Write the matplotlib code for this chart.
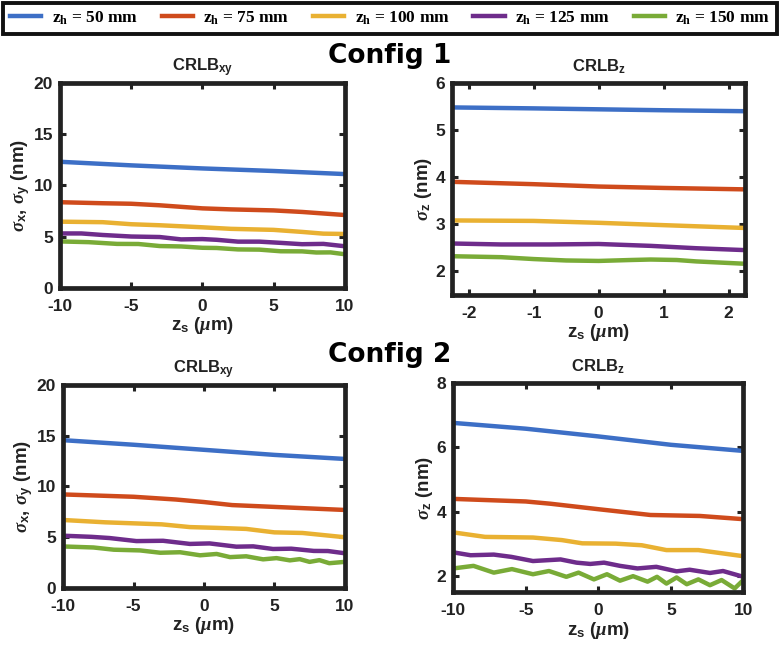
import matplotlib
matplotlib.use("Agg")
import matplotlib.pyplot as plt
from matplotlib.lines import Line2D

# ── Style ──────────────────────────────────────────────────────────────────
plt.rcParams.update({
    "font.family": "Liberation Sans",
    "font.weight": "bold",
    "axes.unicode_minus": False,
    "mathtext.fontset": "custom",
    "mathtext.rm": "Liberation Sans:bold",
    "mathtext.bf": "Liberation Serif:bold",
    "mathtext.it": "Liberation Serif:italic",
})

COLORS = ["#3d6fc6", "#cf4b1c", "#e9b132", "#6e2c8b", "#79ab37"]
ZH_LABELS = ["50 mm", "75 mm", "100 mm", "125 mm", "150 mm"]
INK = "#222222"

# ── Data ───────────────────────────────────────────────────────────────────
# Config 1, CRLB_xy
c1xy_x = [
    [-10, -5, 0, 5, 10],
    [-10, -7, -5, -3, -1, 0, 2, 5, 7, 10],
    [-10, -7, -5, -3, 0, 2, 5, 7, 8.5, 10],
    [-10, -8.5, -7, -5, -3, -1.5, 0, 1, 2.5, 4, 5.5, 7, 8.5, 10],
    [-10, -8, -6, -4.5, -3, -1.5, 0, 1, 2.5, 4, 5.5, 7, 8, 9, 10],
]
c1xy_y = [
    [12.3, 11.95, 11.65, 11.4, 11.1],
    [8.35, 8.25, 8.2, 8.05, 7.85, 7.75, 7.65, 7.55, 7.4, 7.1],
    [6.45, 6.4, 6.2, 6.1, 5.9, 5.75, 5.65, 5.45, 5.28, 5.25],
    [5.3, 5.3, 5.15, 5.0, 4.95, 4.72, 4.75, 4.68, 4.5, 4.5, 4.38, 4.25, 4.28, 4.05],
    [4.52, 4.45, 4.28, 4.27, 4.07, 4.03, 3.9, 3.88, 3.74, 3.72, 3.56, 3.55, 3.44, 3.45, 3.27],
]

# Config 1, CRLB_z
c1z_x = [
    [-2.25, -1, 0, 1, 2.25],
    [-2.25, -1, 0, 1, 2.25],
    [-2.25, -1, 0, 1, 2.25],
    [-2.25, -1.5, -0.75, 0, 0.8, 1.5, 2.25],
    [-2.25, -1.5, -1, -0.5, 0, 0.5, 0.8, 1.2, 1.5, 2.25],
]
c1z_y = [
    [5.48, 5.46, 5.44, 5.42, 5.4],
    [3.9, 3.85, 3.8, 3.77, 3.74],
    [3.08, 3.07, 3.03, 2.98, 2.92],
    [2.59, 2.57, 2.57, 2.58, 2.54, 2.49, 2.45],
    [2.32, 2.3, 2.26, 2.23, 2.22, 2.24, 2.25, 2.24, 2.21, 2.16],
]

# Config 2, CRLB_xy
c2xy_x = [
    [-10, -5, 0, 5, 10],
    [-10, -5, -2, 0, 2, 5, 10],
    [-10, -7, -5, -3, -1, 1, 3, 5, 7, 10],
    [-10, -8, -6.7, -4.8, -2.9, -1, 0.4, 2.3, 3.5, 4.9, 6.2, 7.8, 8.8, 10],
    [-10, -7.85, -6.4, -4.54, -3.1, -1.7, -0.28, 0.9, 1.85, 3.0, 4.2, 5.15,
     6.1, 6.8, 7.5, 8.2, 8.9, 10],
]
c2xy_y = [
    [14.55, 14.1, 13.6, 13.1, 12.7],
    [9.2, 8.97, 8.7, 8.45, 8.15, 7.97, 7.67],
    [6.68, 6.45, 6.35, 6.25, 5.98, 5.9, 5.8, 5.46, 5.4, 4.98],
    [5.13, 5.02, 4.9, 4.6, 4.63, 4.32, 4.37, 4.05, 4.08, 3.82, 3.85, 3.63, 3.62, 3.4],
    [4.07, 3.97, 3.75, 3.68, 3.45, 3.5, 3.2, 3.33, 3.02, 3.1, 2.8, 2.92,
     2.7, 2.82, 2.55, 2.72, 2.42, 2.55],
]

# Config 2, CRLB_z
c2z_x = [
    [-10, -5, 0, 5, 10],
    [-10, -5, -3.3, 0, 2, 3.6, 7, 10],
    [-10, -7.8, -4.5, -2.5, -1.1, 1.2, 3.0, 4.7, 6.9, 10],
    [-10, -8.8, -7.2, -6, -4.5, -2.6, -1.5, -0.55, 0.4, 1.5, 2.7, 4, 5.4,
     6.3, 7.7, 8.6, 10],
    [-10, -8.6, -7.2, -5.95, -4.5, -3.4, -2.2, -1.36, -0.3, 0.6, 1.5, 2.4,
     3.4, 4.05, 4.7, 5.4, 6.1, 6.9, 7.7, 8.5, 9.4, 10],
]
c2z_y = [
    [6.76, 6.58, 6.34, 6.08, 5.89],
    [4.4, 4.32, 4.25, 4.08, 3.98, 3.9, 3.87, 3.77],
    [3.36, 3.22, 3.2, 3.12, 3.02, 3.01, 2.96, 2.81, 2.81, 2.62],
    [2.74, 2.65, 2.67, 2.6, 2.47, 2.52, 2.42, 2.38, 2.42, 2.32, 2.24, 2.29,
     2.15, 2.2, 2.1, 2.16, 1.98],
    [2.24, 2.32, 2.11, 2.22, 2.06, 2.16, 1.98, 2.11, 1.90, 2.06, 1.86, 2.0,
     1.83, 1.98, 1.77, 1.96, 1.75, 1.90, 1.72, 1.88, 1.62, 1.88],
]

XY_YLABEL = r"$\sigma_{\rm x}$, $\sigma_{\rm y}$ (nm)"
Z_YLABEL = r"$\sigma_{\rm z}$ (nm)"
XLABEL = r"z$_{\rm s}$ ($\mu$m)"

# ── Figure ─────────────────────────────────────────────────────────────────
fig = plt.figure(figsize=(7.8, 6.48), dpi=100)

panels = [
    # rect, xs, ys, title, ylabel, xlim, ylim, xticks, yticks
    ([0.077, 0.556, 0.365, 0.316], c1xy_x, c1xy_y, r"CRLB$_{\rm xy}$", XY_YLABEL,
     (-10, 10), (0, 20), [-10, -5, 0, 5, 10], [0, 5, 10, 15, 20]),
    ([0.580, 0.545, 0.375, 0.327], c1z_x, c1z_y, r"CRLB$_{\rm z}$", Z_YLABEL,
     (-2.25, 2.25), (1.5, 6), [-2, -1, 0, 1, 2], [2, 3, 4, 5, 6]),
    ([0.081, 0.093, 0.361, 0.313], c2xy_x, c2xy_y, r"CRLB$_{\rm xy}$", XY_YLABEL,
     (-10, 10), (0, 20), [-10, -5, 0, 5, 10], [0, 5, 10, 15, 20]),
    ([0.581, 0.086, 0.372, 0.323], c2z_x, c2z_y, r"CRLB$_{\rm z}$", Z_YLABEL,
     (-10, 10), (1.5, 8), [-10, -5, 0, 5, 10], [2, 4, 6, 8]),
]

for rect, xs, ys, title, ylabel, xlim, ylim, xticks, yticks in panels:
    ax = fig.add_axes(rect)
    for x, y, c in zip(xs, ys, COLORS):
        ax.plot(x, y, color=c, lw=3.2, solid_joinstyle="round",
                solid_capstyle="butt")
    ax.set_xlim(*xlim)
    ax.set_ylim(*ylim)
    ax.set_xticks(xticks)
    ax.set_yticks(yticks)
    ax.tick_params(direction="in", length=4, width=2.2, top=True, right=True,
                   labelsize=12.5, colors=INK, labelcolor=INK)
    ax.tick_params(axis="x", pad=8)
    ax.tick_params(axis="y", pad=5)
    for lab in ax.get_xticklabels() + ax.get_yticklabels():
        lab.set_fontweight("bold")
    for sp in ax.spines.values():
        sp.set_linewidth(3.4)
        sp.set_color(INK)
    ax.set_title(title, fontsize=12, fontweight="bold", pad=8, color=INK)
    ax.set_xlabel(XLABEL, fontsize=13.5, fontweight="bold", labelpad=1, color=INK)
    ax.set_ylabel(ylabel, fontsize=13.5, fontweight="bold", labelpad=1, color=INK)

fig.text(0.5, 0.913, "Config 1", ha="center", va="center", fontsize=19,
         fontweight="bold", family="DejaVu Sans")
fig.text(0.5, 0.452, "Config 2", ha="center", va="center", fontsize=19,
         fontweight="bold", family="DejaVu Sans")

handles = [Line2D([], [], color=c, lw=3.2) for c in COLORS]
labels = [r"$\mathbf{z}_{\mathbf{h}}$ = " + s for s in ZH_LABELS]
leg = fig.legend(handles, labels, loc="upper left", ncol=5, mode="expand",
                 bbox_to_anchor=(0.004, 0.996, 0.992, 0.0),
                 prop={"family": "Liberation Serif", "weight": "bold", "size": 12.5},
                 fancybox=False, framealpha=1, edgecolor="#111111",
                 handlelength=1.8, handletextpad=0.6, borderpad=0.4,
                 borderaxespad=0.0, columnspacing=1.0)
leg.get_frame().set_linewidth(2.8)

fig.savefig("out.png", dpi=100, facecolor="white")
